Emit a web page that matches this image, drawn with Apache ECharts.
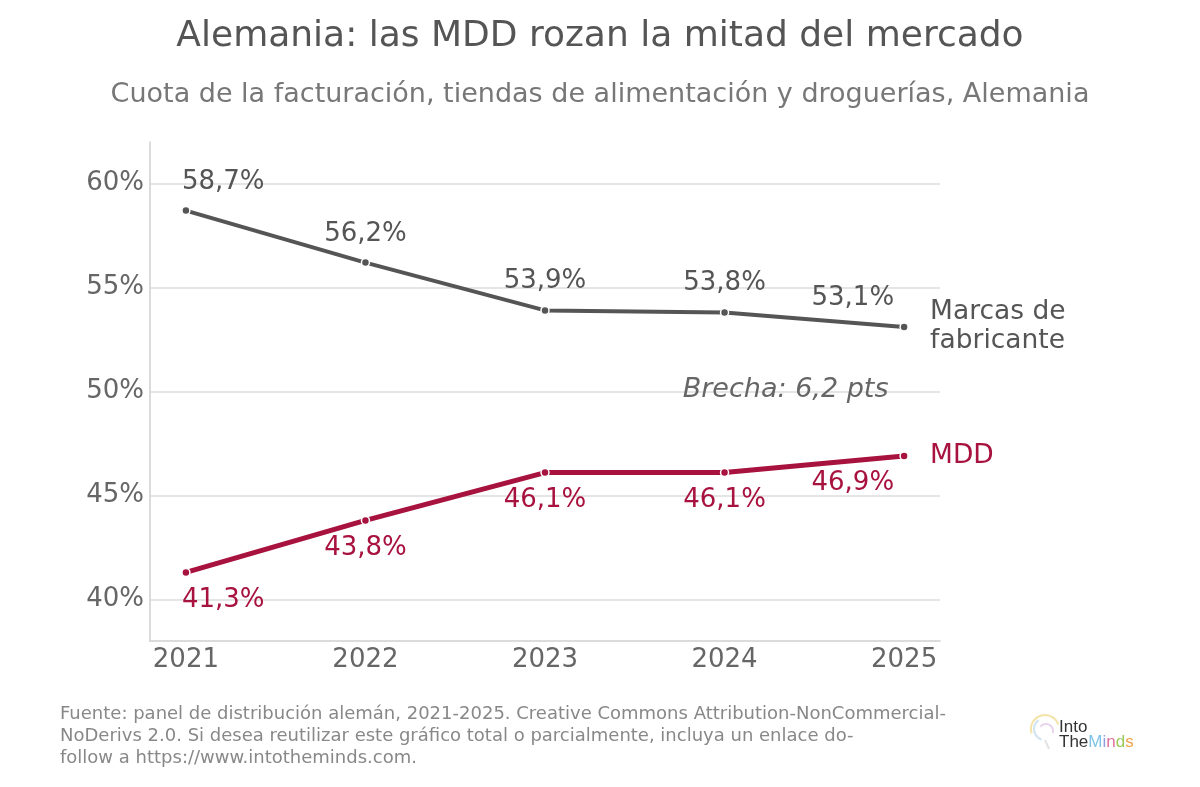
<!DOCTYPE html>
<html>
<head>
<meta charset="utf-8">
<title>Alemania MDD</title>
<style>
  html, body { margin: 0; padding: 0; background: #fff; }
  #main { width: 1200px; height: 787px; }
</style>
</head>
<body>
<div id="main"></div>
<script src="https://cdn.jsdelivr.net/npm/echarts@6/dist/echarts.min.js"></script>
<script>
const YEARS = [2021, 2022, 2023, 2024, 2025];
const MARCAS = [58.7, 56.2, 53.9, 53.8, 53.1];
const MDD = [41.3, 43.8, 46.1, 46.1, 46.9];
const Y_TICKS = [40, 45, 50, 55, 60];

const FONT = 'DejaVu Sans';
const GREY = '#555555';
const RED = '#a8123e';

function fmt(v) {
    return v.toFixed(1).replace('.', ',') + '%';
}

// first label pushed right, last pushed left, like the original
function buildData(values, color, above) {
    return values.map(function (v, i) {
        let align = 'center';
        let dx = 0;
        if (i === 0) { align = 'left'; dx = -4; }
        if (i === values.length - 1) { align = 'right'; dx = -10; }
        return {
            value: [YEARS[i], v],
            label: {
                show: true,
                position: above ? 'top' : 'bottom',
                distance: above ? 11 : 10,
                align: align,
                offset: [dx, 0],
                formatter: fmt(v),
                color: color,
                fontSize: 26,
                fontFamily: FONT
            }
        };
    });
}

let myChart = echarts.init(document.getElementById('main'));

let option = {
    backgroundColor: '#fff',
    animation: false,
    title: [
        {
            text: 'Alemania: las MDD rozan la mitad del mercado',
            left: 'center',
            top: 14,
            textStyle: { fontFamily: FONT, fontSize: 36, fontWeight: 'normal', color: '#555' }
        },
        {
            text: 'Cuota de la facturación, tiendas de alimentación y droguerías, Alemania',
            left: 'center',
            top: 76,
            textStyle: { fontFamily: FONT, fontSize: 27, fontWeight: 'normal', color: '#777' }
        }
    ],
    grid: { left: 150, right: 260, top: 142, bottom: 146 },
    xAxis: {
        type: 'value',
        min: 2020.8,
        max: 2025.2,
        interval: 1,
        axisLine: { show: true, lineStyle: { color: '#d0d0d0', width: 1.5 } },
        axisTick: { show: false },
        splitLine: { show: false },
        axisLabel: {
            margin: 6,
            fontSize: 26,
            fontFamily: FONT,
            color: '#666',
            customValues: YEARS,
            formatter: function (v) { return String(Math.round(v)); }
        }
    },
    yAxis: {
        type: 'value',
        min: 38,
        max: 62,
        axisLine: { show: true, lineStyle: { color: '#d0d0d0', width: 1.5 } },
        axisTick: { show: false },
        splitLine: { show: true, showMinLine: false, showMaxLine: false, lineStyle: { color: '#dddddd', width: 1.5 } },
        axisLabel: {
            margin: 6,
            fontSize: 26,
            fontFamily: FONT,
            color: '#666',
            padding: [4, 0, 0, 0],
            customValues: Y_TICKS,
            formatter: '{value}%'
        }
    },
    series: [
        {
            name: 'Marcas de fabricante',
            type: 'line',
            data: buildData(MARCAS, GREY, true),
            symbol: 'circle',
            symbolSize: 8,
            itemStyle: { color: GREY, borderColor: '#fff', borderWidth: 1.5 },
            lineStyle: { color: GREY, width: 4 },
            endLabel: {
                show: true,
                distance: 26,
                formatter: 'Marcas de\nfabricante',
                color: GREY,
                fontSize: 26.5,
                lineHeight: 29,
                fontFamily: FONT,
                align: 'left'
            },
            z: 3
        },
        {
            name: 'MDD',
            type: 'line',
            data: buildData(MDD, RED, false),
            symbol: 'circle',
            symbolSize: 8,
            itemStyle: { color: RED, borderColor: '#fff', borderWidth: 1.5 },
            lineStyle: { color: RED, width: 5 },
            endLabel: {
                show: true,
                distance: 26,
                formatter: 'MDD',
                color: RED,
                fontSize: 26.5,
                fontFamily: FONT
            },
            markPoint: {
                symbol: 'circle',
                symbolSize: 1,
                itemStyle: { color: 'rgba(0,0,0,0)' },
                data: [{
                    coord: [2024.34, 50.05],
                    label: {
                        show: true,
                        position: 'inside',
                        formatter: 'Brecha: 6,2 pts',
                        fontStyle: 'italic',
                        fontSize: 27,
                        fontFamily: FONT,
                        color: '#666'
                    }
                }]
            },
            z: 3
        }
    ],
    graphic: [
        {
            type: 'text',
            left: 60,
            top: 703,
            style: {
                text: 'Fuente: panel de distribución alemán, 2021-2025. Creative Commons Attribution-NonCommercial-\nNoDerivs 2.0. Si desea reutilizar este gráfico total o parcialmente, incluya un enlace do-\nfollow a https://www.intotheminds.com.',
                font: '18px "DejaVu Sans"',
                lineHeight: 22,
                fill: '#888'
            }
        },
        {
            type: 'text',
            left: 1059,
            top: 719,
            style: {
                text: '{a|Into}\n{a|The}{m|M}{i|i}{n|n}{d|d}{s|s}',
                rich: {
                    a: { fontFamily: 'Liberation Sans', fontSize: 17, lineHeight: 15, fill: '#333' },
                    m: { fontFamily: 'Liberation Sans', fontSize: 17, lineHeight: 15, fill: '#7ec3e6' },
                    i: { fontFamily: 'Liberation Sans', fontSize: 17, lineHeight: 15, fill: '#8fa0e0' },
                    n: { fontFamily: 'Liberation Sans', fontSize: 17, lineHeight: 15, fill: '#e0739a' },
                    d: { fontFamily: 'Liberation Sans', fontSize: 17, lineHeight: 15, fill: '#9cc95a' },
                    s: { fontFamily: 'Liberation Sans', fontSize: 17, lineHeight: 15, fill: '#f0a24a' }
                }
            }
        },
        {
            type: 'arc',
            shape: { cx: 1045, cy: 729, r: 14, startAngle: Math.PI * 0.9, endAngle: Math.PI * 1.9 },
            style: { fill: 'none', stroke: '#f3e3a8', lineWidth: 2 }
        },
        {
            type: 'arc',
            shape: { cx: 1045, cy: 729, r: 11, startAngle: Math.PI * 0.6, endAngle: Math.PI * 1.3 },
            style: { fill: 'none', stroke: '#cfe3f3', lineWidth: 2 }
        },
        {
            type: 'arc',
            shape: { cx: 1046, cy: 731, r: 7, startAngle: Math.PI * 1.2, endAngle: Math.PI * 2.1 },
            style: { fill: 'none', stroke: '#e8d5ec', lineWidth: 2 }
        },
        {
            type: 'line',
            shape: { x1: 1045, y1: 740, x2: 1049, y2: 749 },
            style: { stroke: '#e3e3e3', lineWidth: 2 }
        }
    ]
};

myChart.setOption(option);
</script>
</body>
</html>
